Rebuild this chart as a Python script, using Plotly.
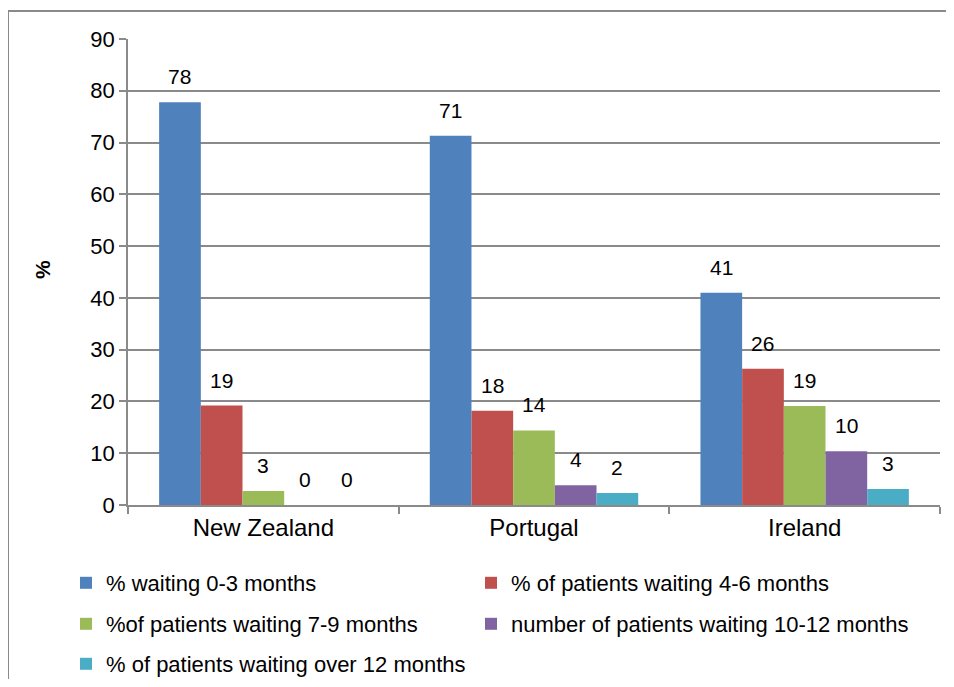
import plotly.graph_objects as go

countries = ["New Zealand", "Portugal", "Ireland"]
series_names = [
    "% waiting 0-3 months",
    "% of patients waiting 4-6 months",
    "%of patients waiting 7-9 months",
    "number of patients waiting 10-12 months",
    "% of patients waiting over 12 months",
]
wait_0_3 = [77.8, 71.3, 41.0]
wait_4_6 = [19.2, 18.2, 26.3]
wait_7_9 = [2.7, 14.4, 19.1]
wait_10_12 = [0, 3.8, 10.4]
wait_over_12 = [0, 2.3, 3.1]
y_ticks = [0, 10, 20, 30, 40, 50, 60, 70, 80, 90]

colors = ["#4F81BD", "#C0504D", "#9BBB59", "#8064A2", "#4BACC6"]
values = [wait_0_3, wait_4_6, wait_7_9, wait_10_12, wait_over_12]

FONT = "Liberation Sans, Arial, sans-serif"
GRAY = "#8a8a8a"

# the page body adds an 8px margin on every side; keep the figure inside the window
OFF = 8
W, H = 954 - 2 * OFF, 687 - 2 * OFF
# plot area in window pixels
PL, PR, PT, PB = 128, 940, 39, 505
L, R, T, B = PL - OFF, W + OFF - PR, PT - OFF, H + OFF - PB
pw, ph = W - L - R, H - T - B
BARGAP = 0.23

def px_x(x):
    return (x - PL) / pw

def px_y(y):
    return (PB - y) / ph

# legend placement (window px): left edge of each legend box, vertical centre
legend_pos = [(66, 583), (471, 583), (66, 624), (471, 624), (66, 664)]
legend_ids = ["legend", "legend2", "legend3", "legend4", "legend5"]

fig = go.Figure()
for name, vals, col, lg in zip(series_names, values, colors, legend_ids):
    fig.add_trace(go.Bar(
        x=countries, y=vals, name=name,
        marker=dict(color=col, line=dict(width=0)),
        legend=lg,
    ))

# value labels above bars, offset to each bar of the group
n = len(values)
cat_px = pw / len(countries)
bar_px = cat_px * (1 - BARGAP) / n
annotations = []
for i, vals in enumerate(values):
    for c, v in zip(countries, vals):
        annotations.append(dict(
            x=c, y=v, xref="x", yref="y", text=f"{v:.0f}",
            showarrow=False, xanchor="center", yanchor="bottom",
            xshift=(i - (n - 1) / 2) * bar_px, yshift=12,
            font=dict(size=21, family=FONT, color="#000000"),
        ))
annotations.append(dict(
    text="<b>%</b>", x=px_x(42), y=px_y(270), xref="paper", yref="paper",
    xanchor="center", yanchor="middle",
    textangle=-90, showarrow=False, font=dict(size=21, family=FONT, color="#000000"),
))

legend_common = dict(
    orientation="h", xanchor="left", yanchor="middle",
    font=dict(size=22, family=FONT, color="#000000"),
    bgcolor="rgba(0,0,0,0)", borderwidth=0,
)
legends = {}
for lg, (lxp, lyp) in zip(legend_ids, legend_pos):
    legends[lg] = dict(x=px_x(lxp), y=px_y(lyp), **legend_common)

fig.update_layout(
    width=W, height=H,
    margin=dict(l=L, r=R, t=T, b=B, pad=0, autoexpand=False),
    paper_bgcolor="white", plot_bgcolor="white",
    font=dict(family=FONT, size=22, color="#000000"),
    barmode="group", bargap=BARGAP, bargroupgap=0,
    showlegend=True,
    xaxis=dict(
        type="category", showline=True, linecolor=GRAY, linewidth=1.5,
        ticks="outside", tickson="boundaries", ticklen=7, tickcolor=GRAY, tickwidth=1.5,
        tickfont=dict(size=24, family=FONT, color="#000000"),
        showgrid=False,
    ),
    yaxis=dict(
        range=[0, 90], tickvals=y_ticks, showline=True, linecolor=GRAY, linewidth=1.5,
        ticks="outside", ticklen=7, tickcolor=GRAY, tickwidth=1.5,
        showgrid=True, gridcolor=GRAY, gridwidth=1.5, zeroline=False,
        tickfont=dict(size=22, family=FONT, color="#000000"),
    ),
    annotations=annotations,
    shapes=[
        dict(type="line", xref="paper", yref="paper",
             x0=px_x(8), x1=px_x(W + OFF), y0=px_y(11), y1=px_y(11),
             line=dict(color=GRAY, width=2), layer="below"),
        dict(type="line", xref="paper", yref="paper",
             x0=px_x(8), x1=px_x(8), y0=px_y(11), y1=px_y(H + OFF),
             line=dict(color=GRAY, width=2), layer="below"),
    ],
    **legends,
)

fig.write_html("out.html")
